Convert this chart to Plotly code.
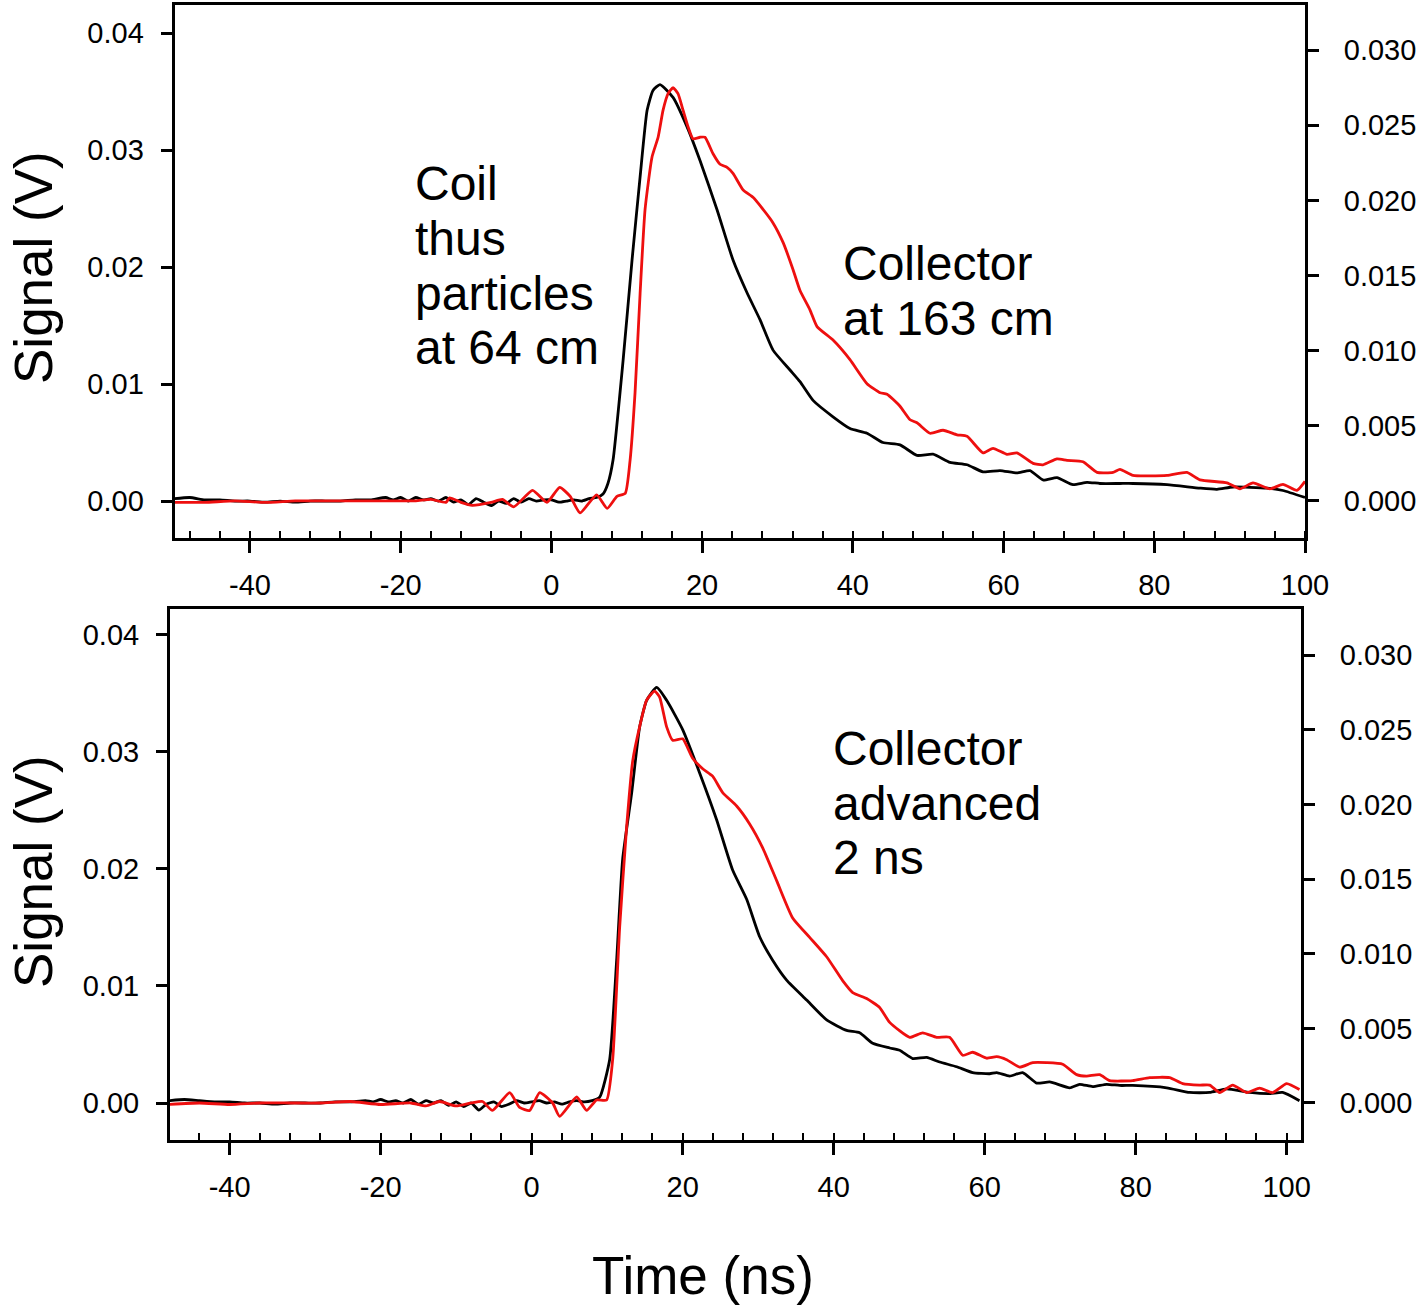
import plotly.graph_objects as go

# ---------------- data ----------------
# Top panel: coil signal (left axis, V)
top_coil_t = [-50, -48, -46, -44, -42, -40, -38, -36, -34, -32, -30, -28, -26, -24, -22,
              -21, -20, -19, -18, -17, -16, -15, -14, -13, -12, -11, -10, -9, -8, -7, -6, -5, -4,
              -3, -2, -1, 0, 1, 2, 3, 4, 5, 6,
              6.85, 7.5, 8.18, 9.51, 10.70, 11.77, 12.70, 13.48, 14.41, 16.14, 17.99, 19.72, 21.98,
              24.10, 25.96, 27.68, 29.41, 31.66, 32.99, 34.72, 37.37, 39.62, 41.88, 44.0, 46.26,
              48.51, 50.64, 52.89, 55.15, 57.27, 59.53, 61.78, 63.51, 65.23, 67.09, 69.21, 71.07,
              72.79, 75.45, 77.17, 81.69, 86.06, 88.32, 90.44, 94.95, 97.07, 100]
top_coil_v = [0.0002, 0.0003, 0.0001, 0.0001, 0.0, 0.0, -0.0001, 0.0, -0.0001, 0.0, 0.0, 0.0, 0.0001, 0.0001, 0.0003,
              0.0001, 0.0003, 0.0, 0.0003, 0.0001, 0.0002, 0.0, 0.0003, -0.0001, 0.0001, -0.0003, 0.0002, -0.0001, -0.0004,
              0.0, -0.0002, 0.0002, -0.0001, 0.0002, 0.0, 0.0001, 0.0001, -0.0001, 0.0, 0.0001, 0.0, 0.0002, 0.0003,
              0.0006, 0.0015, 0.0035, 0.0120, 0.0206, 0.0277, 0.0334, 0.0351, 0.0356, 0.0345, 0.0320, 0.0291, 0.0249,
              0.0206, 0.0178, 0.0155, 0.0129, 0.0112, 0.0102, 0.0086, 0.0072, 0.0062, 0.0058, 0.0050, 0.0048,
              0.0039, 0.0040, 0.0033, 0.0031, 0.0025, 0.0026, 0.0024, 0.0026, 0.0018, 0.0020, 0.0014, 0.0016,
              0.0015, 0.0015, 0.0015, 0.0014, 0.0011, 0.0010, 0.0012, 0.0011, 0.0009, 0.0003]

# Top panel: collector signal (right axis, V)
top_coll_t = [-50, -46, -42, -38, -34, -30, -26, -22, -18, -16, -14, -13.5, -12, -10.5, -8, -6.5, -5,
              -2.5, -0.6, 1.1, 2.5, 3.8, 6.0, 7.4, 8.7, 9.8,
              10.44, 11.10, 11.77, 12.43, 13.36, 14.16, 14.82, 15.48, 16.14, 16.80, 17.47, 18.13, 18.79,
              19.72, 20.38, 21.45, 22.38, 23.31, 24.10, 25.43, 26.75, 28.08, 29.41, 30.74, 32.06, 32.99,
              34.32, 35.25, 37.37, 39.62, 41.88, 43.61, 44.54, 46.26, 47.59, 48.51, 50.24, 51.97, 53.82,
              55.15, 57.27, 58.60, 60.46, 61.78, 63.91, 65.23, 67.09, 68.42, 70.54, 72.40, 74.53, 75.45,
              77.17, 81.69, 84.34, 86.06, 89.65, 91.37, 93.10, 95.35, 97.07, 98.93, 100]
top_coll_v = [-0.0001, -0.0001, 0.0, -0.0001, 0.0, 0.0, 0.0, 0.0, 0.0, 0.0001, -0.0001, 0.0002, -0.0001, -0.0003,
              -0.0001, 0.0001, -0.0004, 0.0007, -0.0001, 0.0009, 0.0003, -0.0008, 0.0004, -0.0005, 0.0003, 0.0005,
              0.0027, 0.0072, 0.0138, 0.0194, 0.0229, 0.0242, 0.0260, 0.0271, 0.0275, 0.0271, 0.0260, 0.0249, 0.0241,
              0.0242, 0.0242, 0.0231, 0.0224, 0.0222, 0.0218, 0.0207, 0.0202, 0.0194, 0.0185, 0.0172, 0.0154, 0.0140,
              0.0127, 0.0116, 0.0107, 0.0094, 0.0078, 0.0072, 0.0071, 0.0063, 0.0054, 0.0052, 0.0045, 0.0047, 0.0044,
              0.0043, 0.0032, 0.0035, 0.0031, 0.0032, 0.0025, 0.0024, 0.0028, 0.0027, 0.0026, 0.0019, 0.0019, 0.0021,
              0.0017, 0.0017, 0.0019, 0.0014, 0.0012, 0.0008, 0.0012, 0.0008, 0.0011, 0.0007, 0.0013]

# Bottom panel: coil signal (left axis, V)
bot_coil_t = [-48, -46, -44, -42, -40, -38, -36, -34, -32, -30, -28, -26, -24, -22,
              -21, -20, -19, -18, -17, -16, -15, -14, -13, -12, -11, -10, -9, -8, -7, -6, -5, -4, -3, -2,
              -1, 0, 1, 2, 3, 4, 5, 6, 7, 8,
              9.01, 10.33, 11.26, 12.05, 13.25, 14.30, 15.23, 16.56, 17.88, 20.0, 22.25, 24.5, 26.62,
              28.48, 30.2, 31.92, 33.77, 36.42, 39.07, 41.72, 43.44, 45.17, 47.42, 48.74, 50.46, 52.32,
              54.04, 56.29, 58.41, 60.66, 61.59, 63.31, 65.03, 66.89, 68.61, 71.26, 72.58, 74.30, 76.16,
              77.88, 79.6, 84.11, 87.15, 89.8, 92.05, 95.1, 97.75, 99.47, 101.7]
bot_coil_v = [0.0002, 0.0003, 0.0002, 0.0001, 0.0001, 0.0, 0.0, -0.0001, 0.0, 0.0, 0.0, 0.0001, 0.0001, 0.0002,
              0.0001, 0.0003, 0.0001, 0.0002, 0.0, 0.0003, -0.0001, 0.0002, 0.0, 0.0002, -0.0002, 0.0001, -0.0003,
              0.0, -0.0006, -0.0001, 0.0001, -0.0003, -0.0001, 0.0002, 0.0, 0.0001, 0.0002, 0.0, 0.0001, -0.0001,
              0.0001, 0.0002, 0.0001, 0.0002,
              0.0005, 0.0037, 0.0122, 0.0208, 0.0265, 0.0321, 0.0344, 0.0355, 0.0344, 0.0319, 0.0282, 0.0242, 0.0199,
              0.0174, 0.0142, 0.0122, 0.0105, 0.0088, 0.0071, 0.0062, 0.0060, 0.0051, 0.0047, 0.0045, 0.0038, 0.0039,
              0.0035, 0.0031, 0.0026, 0.0025, 0.0026, 0.0023, 0.0026, 0.0017, 0.0018, 0.0013, 0.0016, 0.0014, 0.0016,
              0.0015, 0.0015, 0.0013, 0.0009, 0.0009, 0.0012, 0.0009, 0.0008, 0.0009, 0.0002]

# Bottom panel: collector advanced 2 ns (right axis, V)
bot_coll_t = [-48, -44, -40, -36, -32, -28, -24, -20, -16, -14, -12.2, -10, -8, -6.5, -5.2, -2.9, -1.6,
              -0.26, 1.06, 2.78, 3.7, 5.96, 7.28, 8.6,
              9.93, 10.73, 11.66, 12.58, 13.38, 14.30, 15.23, 16.29, 16.95, 17.88, 18.68, 20.0, 21.32, 22.65,
              23.97, 25.30, 27.15, 28.87, 30.6, 32.45, 34.57, 36.82, 39.07, 41.19, 42.52, 44.37, 46.09, 47.42,
              50.07, 51.79, 53.64, 55.36, 57.09, 58.41, 60.26, 61.59, 62.91, 64.64, 66.36, 68.21, 70.33, 72.19,
              73.51, 75.23, 76.56, 79.6, 81.85, 84.5, 86.23, 88.48, 89.8, 91.13, 92.85, 94.7, 96.42, 98.15,
              100.0, 101.7]
bot_coll_v = [-0.0001, 0.0, -0.0001, 0.0, 0.0, 0.0, 0.0001, -0.0001, 0.0, -0.0002, 0.0001, -0.0002, 0.0, 0.0001,
              -0.0005, 0.0007, -0.0003, -0.0005, 0.0007, 0.0, -0.0009, 0.0004, -0.0005, 0.0002,
              0.0002, 0.0029, 0.0118, 0.0185, 0.0229, 0.0252, 0.0270, 0.0276, 0.0272, 0.0252, 0.0243, 0.0244, 0.0231,
              0.0224, 0.0219, 0.0208, 0.0199, 0.0187, 0.0171, 0.0149, 0.0124, 0.0111, 0.0098, 0.0082, 0.0074, 0.0070,
              0.0064, 0.0054, 0.0044, 0.0047, 0.0044, 0.0044, 0.0032, 0.0034, 0.0030, 0.0031, 0.0029, 0.0024, 0.0027,
              0.0027, 0.0026, 0.0019, 0.0018, 0.0019, 0.0015, 0.0015, 0.0017, 0.0017, 0.0013, 0.0012, 0.0012, 0.0007,
              0.0012, 0.0007, 0.0010, 0.0007, 0.0013, 0.0009]

for a, b in [(top_coil_t, top_coil_v), (top_coll_t, top_coll_v),
             (bot_coil_t, bot_coil_v), (bot_coll_t, bot_coll_v)]:
    assert len(a) == len(b), (len(a), len(b))

x_ticks = [-40, -20, 0, 20, 40, 60, 80, 100]
x_tick_text = [str(v) for v in x_ticks]
left_ticks = [0.00, 0.01, 0.02, 0.03, 0.04]
right_ticks = [0.000, 0.005, 0.010, 0.015, 0.020, 0.025, 0.030]

top_labels = ["Coil", "thus", "particles", "at 64 cm"]
top_coll_labels = ["Collector", "at 163 cm"]
bot_labels = ["Collector", "advanced", "2 ns"]

# ---------------- styling ----------------
W, H = 1424, 1308
FONT = "Liberation Sans, Arial, Helvetica, sans-serif"
RED = "#ee0f0f"
BLACK = "#000000"
LW = 2.8


def px2x(px):
    return px / W


def px2y(py):
    return 1 - py / H


top_dom_x = [px2x(174.6), px2x(1305)]
top_dom_y = [px2y(538), px2y(5)]
bot_dom_x = [px2x(170), px2x(1301)]
bot_dom_y = [px2y(1140), px2y(609)]

line_style = dict(width=LW, shape="spline", smoothing=0.5)

fig = go.Figure()
fig.add_trace(go.Scatter(x=top_coil_t, y=top_coil_v, mode="lines", xaxis="x", yaxis="y",
                         line=dict(color=BLACK, **line_style), showlegend=False))
fig.add_trace(go.Scatter(x=top_coll_t, y=top_coll_v, mode="lines", xaxis="x", yaxis="y2",
                         line=dict(color=RED, **line_style), showlegend=False))
fig.add_trace(go.Scatter(x=bot_coil_t, y=bot_coil_v, mode="lines", xaxis="x2", yaxis="y3",
                         line=dict(color=BLACK, **line_style), showlegend=False))
fig.add_trace(go.Scatter(x=bot_coll_t, y=bot_coll_v, mode="lines", xaxis="x2", yaxis="y4",
                         line=dict(color=RED, **line_style), showlegend=False))

tickfont = dict(family=FONT, size=29, color="black")


def xaxis(domain, rng, anchor):
    return dict(domain=domain, range=rng, anchor=anchor, showgrid=False, zeroline=False,
                automargin=False,
                showline=True, linecolor="black", linewidth=3, mirror=True,
                tickmode="array", tickvals=x_ticks, ticktext=x_tick_text,
                ticks="outside", ticklen=12, tickwidth=3,
                tickcolor="black", tickfont=tickfont, ticklabelstandoff=7,
                minor=dict(tickmode="linear", tick0=0, dtick=4, ticks="inside", ticklen=7,
                           tickwidth=2, tickcolor="black", showgrid=False))


def yleft(domain, rng, anchor):
    return dict(domain=domain, range=rng, anchor=anchor, showgrid=False, zeroline=False,
                automargin=False,
                showline=True, linecolor="black", linewidth=3,
                tickmode="array", tickvals=left_ticks, tickformat=".2f", ticks="outside",
                ticklen=11, tickwidth=3, tickcolor="black", tickfont=tickfont, ticklabelstandoff=11)


def yright(rng, anchor, over):
    return dict(range=rng, anchor=anchor, overlaying=over, side="right", showgrid=False,
                automargin=False,
                zeroline=False, showline=True, linecolor="black", linewidth=3,
                tickmode="array", tickvals=right_ticks, tickformat=".3f", ticks="outside",
                ticklen=11, tickwidth=3, tickcolor="black", tickfont=tickfont, ticklabelstandoff=19)


annotations = []
txtfont = dict(family=FONT, size=48, color="black")
for i, s in enumerate(top_labels):
    annotations.append(dict(text=s, x=px2x(413), y=px2y(183 + 55 * i), xref="paper", yref="paper",
                            xanchor="left", yanchor="middle", showarrow=False, font=txtfont))
for i, s in enumerate(top_coll_labels):
    annotations.append(dict(text=s, x=px2x(841), y=px2y(263 + 55 * i), xref="paper", yref="paper",
                            xanchor="left", yanchor="middle", showarrow=False, font=txtfont))
for i, s in enumerate(bot_labels):
    annotations.append(dict(text=s, x=px2x(831), y=px2y(748 + 55 * i), xref="paper", yref="paper",
                            xanchor="left", yanchor="middle", showarrow=False, font=txtfont))

titlefont = dict(family=FONT, size=53, color="black")
for yc in (268, 872):
    annotations.append(dict(text="Signal (V)", x=px2x(33), y=px2y(yc), xref="paper", yref="paper",
                            xanchor="center", yanchor="middle", textangle=-90, showarrow=False,
                            borderpad=0, font=titlefont))
annotations.append(dict(text="Time (ns)", x=px2x(703), y=px2y(1275), xref="paper", yref="paper",
                        xanchor="center", yanchor="middle", showarrow=False, borderpad=0,
                        font=titlefont))

fig.update_layout(
    width=W, height=H, margin=dict(l=0, r=0, t=0, b=0, pad=0),
    paper_bgcolor="white", plot_bgcolor="white", showlegend=False,
    xaxis=xaxis(top_dom_x, [-50, 100], "y"),
    yaxis=yleft(top_dom_y, [-0.00316, 0.0424], "x"),
    yaxis2=yright([-0.00247, 0.0330], "x", "y"),
    xaxis2=xaxis(bot_dom_x, [-47.9, 101.9], "y3"),
    yaxis3=yleft(bot_dom_y, [-0.00316, 0.0422], "x2"),
    yaxis4=yright([-0.00248, 0.0331], "x2", "y3"),
    annotations=annotations,
)

fig.write_html("out.html", config={"displayModeBar": False},
               post_script="document.body.style.margin='0px';document.body.style.overflow='hidden';")
